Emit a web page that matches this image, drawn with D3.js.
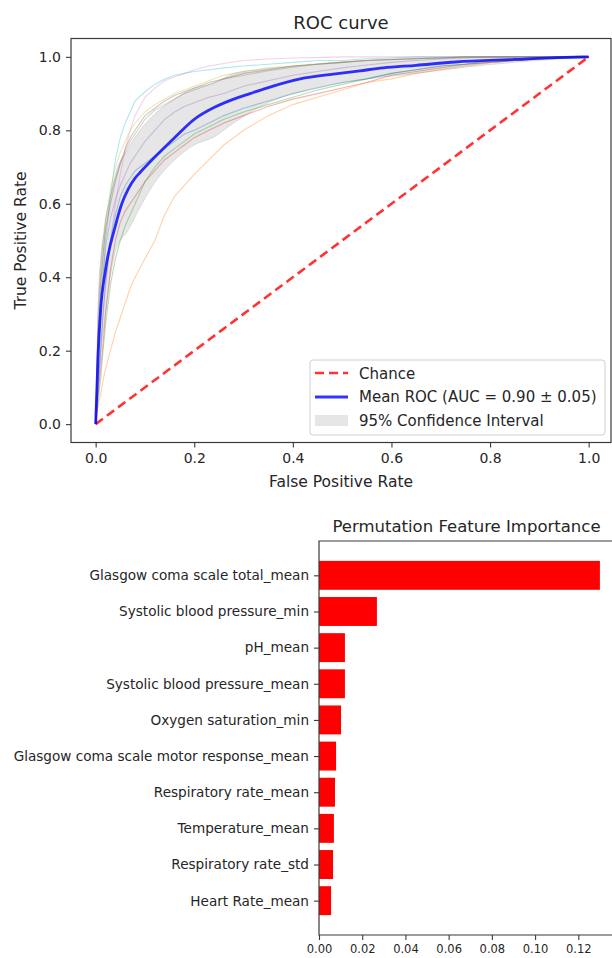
<!DOCTYPE html>
<html>
<head>
<meta charset="utf-8">
<script src="https://cdnjs.cloudflare.com/ajax/libs/d3/7.8.5/d3.min.js"></script>
<style>
  body { margin: 0; background: #fff; }
  svg { display: block; font-family: "DejaVu Sans", sans-serif; }
</style>
</head>
<body>
<div id="chart"></div>
<script>
// Page is 612 x 958 px.
var width = 612;
var height = 958;

var fprGrid = [0, .005, .01, .015, .02, .03, .04, .05, .06, .07, .08, .1, .12, .14, .16, .18, .2,
               .23, .26, .3, .35, .4, .45, .5, .55, .6, .65, .7, .75, .8, .85, .9, 1];

var foldPink   = [0,.1,.2,.3,.38,.5,.6,.68,.75,.8,.84,.89,.915,.935,.945,.955,.965,.975,.982,.99,.994,.997,.998,1,1,1,1,1,1,1,1,1,1];
var foldCyan   = [0,.15,.3,.4,.5,.62,.72,.78,.82,.85,.88,.905,.925,.94,.95,.955,.96,.965,.97,.975,.98,.985,.99,.99,.995,.997,1,1,1,1,1,1,1];
var foldOlive  = [0,.2,.35,.45,.55,.64,.7,.74,.77,.8,.82,.85,.87,.885,.9,.91,.92,.935,.95,.96,.97,.975,.98,.985,.99,.992,.995,.997,1,1,1,1,1];
var foldBrown  = [0,.25,.38,.46,.53,.6,.66,.71,.75,.78,.8,.84,.86,.88,.895,.905,.915,.93,.94,.955,.965,.975,.98,.985,.99,.993,.995,.997,1,1,1,1,1];
var foldGray   = [0,.3,.42,.5,.56,.62,.67,.71,.74,.77,.79,.83,.855,.87,.885,.9,.91,.925,.94,.95,.962,.972,.98,.985,.99,.993,.996,.998,1,1,1,1,1];
var foldPurple = [0,.2,.3,.4,.48,.56,.61,.65,.68,.71,.73,.77,.8,.83,.85,.865,.875,.89,.9,.92,.935,.95,.96,.97,.978,.985,.99,.994,.997,1,1,1,1];
var foldGreen  = [0,.06,.12,.2,.27,.38,.45,.5,.54,.57,.6,.66,.7,.73,.75,.77,.79,.81,.83,.85,.87,.89,.91,.925,.94,.955,.965,.975,.98,.99,.995,.998,1];
var foldRed    = [0,.08,.15,.22,.3,.42,.5,.55,.58,.6,.62,.66,.69,.72,.74,.76,.78,.8,.82,.84,.865,.885,.9,.915,.93,.95,.96,.97,.98,.985,.99,.995,1];
var foldBlue   = [0,.1,.2,.3,.38,.5,.57,.62,.65,.67,.69,.71,.73,.75,.77,.79,.8,.82,.84,.86,.88,.9,.915,.93,.94,.955,.965,.975,.98,.985,.99,.995,1];
var foldOrange = [0,.05,.08,.12,.15,.2,.25,.29,.33,.37,.4,.45,.5,.57,.62,.65,.68,.72,.76,.8,.84,.87,.89,.91,.93,.94,.955,.965,.975,.985,.99,.995,1];

// Mean ROC.
var meanFpr = [0, .005, .01, .02, .04, .053, .066, .08, .09, .114, .16, .2, .24, .28, .313, .347, .415, .482, .536, .583, .65, .73, .85, .935, 1];
var meanTpr = [0, .19, .31, .42, .54, .6, .64, .67, .685, .719, .78, .83, .862, .885, .9, .915, .94, .953, .962, .97, .977, .986, .993, .998, 1];

// 95% confidence band.
var ciFpr   = [0, .005, .01, .02, .04, .066, .09, .114, .16, .2, .24, .28, .35, .415, .48, .55, .65, .75, .85, 1];
var ciUpper = [0, .33, .45, .54, .68, .75, .8, .837, .885, .915, .928, .955, .968, .977, .985, .991, .995, .998, 1, 1];
var ciLower = [0, .08, .18, .3, .47, .528, .59, .646, .719, .76, .782, .82, .875, .905, .925, .94, .955, .972, .985, 1];

var rocTicks = [0, 0.2, 0.4, 0.6, 0.8, 1.0];

// Permutation importance.
var features = ["Glasgow coma scale total_mean", "Systolic blood pressure_min", "pH_mean",
                "Systolic blood pressure_mean", "Oxygen saturation_min",
                "Glasgow coma scale motor response_mean", "Respiratory rate_mean",
                "Temperature_mean", "Respiratory rate_std", "Heart Rate_mean"];
var importance = [0.130, 0.0268, 0.012, 0.012, 0.0102, 0.0079, 0.0074, 0.0069, 0.0065, 0.0056];
var impTicks = [0, 0.02, 0.04, 0.06, 0.08, 0.10, 0.12];

var folds = [
  { tpr: foldPink, color: "#e377c2" }, { tpr: foldCyan, color: "#17becf" },
  { tpr: foldOlive, color: "#bcbd22" }, { tpr: foldBrown, color: "#8c564b" },
  { tpr: foldGray, color: "#7f7f7f" }, { tpr: foldPurple, color: "#9467bd" },
  { tpr: foldGreen, color: "#2ca02c" }, { tpr: foldRed, color: "#d62728" },
  { tpr: foldBlue, color: "#1f77b4" }, { tpr: foldOrange, color: "#ff7f0e" }
];

var textColor = "#262626";
var spineColor = "#3a3a3a";

var svg = d3.select("#chart").append("svg")
  .attr("width", width)
  .attr("height", height);

// ---------- ROC curve ----------
var roc = { left: 71, right: 611, top: 38.5, bottom: 442.5 };
var x = d3.scaleLinear().domain([-0.05, 1.05]).range([roc.left, roc.left + 1.1 * 493]);
var y = d3.scaleLinear().domain([-0.05, 1.05]).range([roc.bottom, roc.top]);

svg.append("defs").append("clipPath").attr("id", "rocClip")
  .append("rect")
  .attr("x", roc.left).attr("y", roc.top)
  .attr("width", roc.right - roc.left).attr("height", roc.bottom - roc.top);

var plot = svg.append("g").attr("clip-path", "url(#rocClip)");

// confidence band
var band = d3.area()
  .x(function(d, i) { return x(ciFpr[i]); })
  .y0(function(d, i) { return y(ciLower[i]); })
  .y1(function(d, i) { return y(ciUpper[i]); })
  .curve(d3.curveMonotoneX);
plot.append("path").datum(ciFpr)
  .attr("d", band)
  .attr("fill", "#808080").attr("fill-opacity", 0.2)
  .attr("stroke", "#808080").attr("stroke-opacity", 0.2);

// individual folds
var foldLine = d3.line()
  .x(function(d, i) { return x(fprGrid[i]); })
  .y(function(d) { return y(d); });
plot.selectAll(".fold")
  .data(folds)
  .enter()
  .append("path")
  .attr("class", "fold")
  .attr("d", function(d) { return foldLine(d.tpr); })
  .attr("fill", "none")
  .attr("stroke", function(d) { return d.color; })
  .attr("stroke-opacity", 0.35)
  .attr("stroke-width", 1.1);

// chance line
plot.append("path").datum([0, 1])
  .attr("d", d3.line().x(function(d) { return x(d); }).y(function(d) { return y(d); }))
  .attr("stroke", "#ff0000").attr("stroke-opacity", 0.8)
  .attr("stroke-width", 2.6)
  .attr("stroke-dasharray", "9,5")
  .attr("fill", "none");

// mean ROC
var meanLine = d3.line()
  .x(function(d, i) { return x(meanFpr[i]); })
  .y(function(d) { return y(d); })
  .curve(d3.curveMonotoneX);
plot.append("path").datum(meanTpr)
  .attr("d", meanLine)
  .attr("fill", "none")
  .attr("stroke", "#0000ff").attr("stroke-opacity", 0.8)
  .attr("stroke-width", 2.8);

// spines
svg.append("rect")
  .attr("x", roc.left).attr("y", roc.top)
  .attr("width", roc.right - roc.left).attr("height", roc.bottom - roc.top)
  .attr("fill", "none").attr("stroke", spineColor).attr("stroke-width", 1.2);

// axes
var xAxis = svg.append("g")
  .attr("transform", "translate(0," + roc.bottom + ")")
  .call(d3.axisBottom(x).tickValues(rocTicks).tickFormat(d3.format(".1f")).tickSize(5).tickPadding(6));
var yAxis = svg.append("g")
  .attr("transform", "translate(" + roc.left + ",0)")
  .call(d3.axisLeft(y).tickValues(rocTicks).tickFormat(d3.format(".1f")).tickSize(5).tickPadding(5));
[xAxis, yAxis].forEach(function(a) {
  a.select(".domain").remove();
  a.selectAll("line").attr("stroke", spineColor).attr("stroke-width", 1.1);
  a.selectAll("text").attr("fill", textColor).style("font-size", "14px").style("font-family", "DejaVu Sans");
});

svg.append("text")
  .attr("x", (roc.left + roc.right) / 2).attr("y", 29)
  .attr("text-anchor", "middle").attr("fill", textColor)
  .style("font-size", "18px")
  .text("ROC curve");
svg.append("text")
  .attr("x", (roc.left + roc.right) / 2).attr("y", 487)
  .attr("text-anchor", "middle").attr("fill", textColor)
  .style("font-size", "15.5px")
  .text("False Positive Rate");
svg.append("text")
  .attr("transform", "translate(26," + (roc.top + roc.bottom) / 2 + ") rotate(-90)")
  .attr("text-anchor", "middle").attr("fill", textColor)
  .style("font-size", "15.5px")
  .text("True Positive Rate");

// legend
var legend = svg.append("g");
legend.append("rect")
  .attr("x", 310).attr("y", 360).attr("width", 295).attr("height", 75).attr("rx", 3)
  .attr("fill", "#fff").attr("fill-opacity", 0.8)
  .attr("stroke", "#d0d0d0");
var legendItems = ["Chance", "Mean ROC (AUC = 0.90 \u00b1 0.05)", "95% Confidence Interval"];
legend.selectAll(".lt")
  .data(legendItems)
  .enter()
  .append("text")
  .attr("class", "lt")
  .attr("x", 359)
  .attr("y", function(d, i) { return 378.5 + i * 23.7; })
  .attr("fill", textColor)
  .style("font-size", "15px")
  .text(function(d) { return d; });
legend.append("line")
  .attr("x1", 315).attr("x2", 348).attr("y1", 373).attr("y2", 373)
  .attr("stroke", "#ff0000").attr("stroke-opacity", 0.8).attr("stroke-width", 2.6)
  .attr("stroke-dasharray", "9,5");
legend.append("line")
  .attr("x1", 315).attr("x2", 348).attr("y1", 397).attr("y2", 397)
  .attr("stroke", "#0000ff").attr("stroke-opacity", 0.8).attr("stroke-width", 2.8);
legend.append("rect")
  .attr("x", 315).attr("y", 415).attr("width", 33).attr("height", 11)
  .attr("fill", "#808080").attr("fill-opacity", 0.2);

// ---------- Permutation importance ----------
var imp = { left: 319, right: 614, top: 541, bottom: 935 };
var bx = d3.scaleLinear().domain([0, 0.12 * (imp.right - imp.left) / 259.3]).range([imp.left, imp.right]);
var by = d3.scaleLinear().domain([-0.95, features.length - 1 + 0.95]).range([imp.top, imp.bottom]);
var barH = 0.8 * (by(1) - by(0));

svg.selectAll(".bar")
  .data(importance)
  .enter()
  .append("rect")
  .attr("class", "bar")
  .attr("x", bx(0))
  .attr("y", function(d, i) { return by(i) - barH / 2; })
  .attr("width", function(d) { return bx(d) - bx(0); })
  .attr("height", barH)
  .attr("fill", "#ff0000");

svg.append("path")
  .attr("d", "M" + imp.right + "," + imp.top + "H" + imp.left + "V" + imp.bottom + "H" + imp.right)
  .attr("fill", "none").attr("stroke", spineColor).attr("stroke-width", 1.2);

var bxAxis = svg.append("g")
  .attr("transform", "translate(0," + imp.bottom + ")")
  .call(d3.axisBottom(bx).tickValues(impTicks).tickFormat(d3.format(".2f")).tickSize(5).tickPadding(5));
var byAxis = svg.append("g")
  .attr("transform", "translate(" + imp.left + ",0)")
  .call(d3.axisLeft(by).tickValues(d3.range(features.length))
        .tickFormat(function(i) { return features[i]; }).tickSize(5).tickPadding(5));
[bxAxis, byAxis].forEach(function(a) {
  a.select(".domain").remove();
  a.selectAll("line").attr("stroke", spineColor).attr("stroke-width", 1.1);
  a.selectAll("text").attr("fill", textColor).style("font-family", "DejaVu Sans");
});
bxAxis.selectAll("text").style("font-size", "11.5px");
byAxis.selectAll("text").style("font-size", "13.6px");

svg.append("text")
  .attr("x", (imp.left + imp.right) / 2).attr("y", 532)
  .attr("text-anchor", "middle").attr("fill", textColor)
  .style("font-size", "16.5px")
  .text("Permutation Feature Importance");
</script>
</body>
</html>
